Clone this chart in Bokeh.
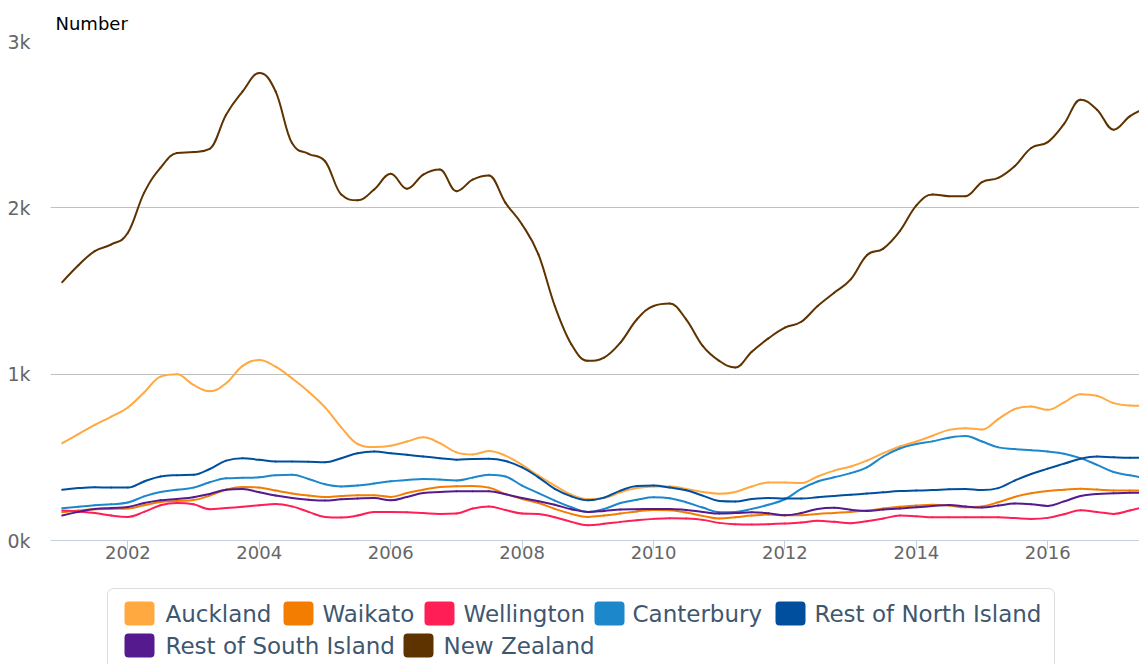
import pandas as pd
from bokeh.plotting import figure
from bokeh.models import (Range1d, FixedTicker, CustomJSTickFormatter, BoxAnnotation,
                          ColumnDataSource)
from bokeh.layouts import column
from bokeh.core.properties import value
from bokeh.embed import file_html
from bokeh.resources import INLINE

# ---------------- data (quarterly) ----------------
quarters = pd.date_range("2001-01-01", periods=67, freq="QS")

auckland = [585, 640, 695, 745, 800, 890, 985, 1000, 935, 898,
            945, 1050, 1085, 1045, 975, 895, 800, 680, 580, 562,
            570, 595, 620, 585, 530, 517, 538, 510, 455, 390,
            330, 275, 248, 255, 290, 315, 325, 325, 310, 292,
            281, 292, 325, 348, 348, 345, 385, 420, 445, 480,
            525, 565, 595, 630, 665, 675, 668, 730, 790, 805,
            786, 830, 880, 870, 826, 812, 810]
waikato = [170, 180, 188, 190, 192, 212, 232, 238, 243, 270,
           305, 322, 318, 300, 283, 270, 262, 268, 272, 272,
           262, 285, 305, 322, 326, 328, 318, 280, 250, 225,
           190, 160, 142, 150, 162, 175, 184, 182, 168, 148,
           132, 140, 150, 156, 152, 152, 160, 166, 172, 180,
           192, 203, 210, 215, 210, 200, 205, 230, 262, 284,
           298, 305, 311, 306, 301, 300, 300]
wellington = [180, 175, 165, 150, 142, 172, 212, 226, 218, 188,
              195, 203, 212, 220, 205, 172, 142, 138, 150, 172,
              172, 170, 165, 160, 162, 192, 205, 183, 162, 160,
              140, 112, 92, 100, 112, 122, 130, 134, 132, 124,
              106, 98, 96, 98, 102, 108, 118, 112, 104, 116,
              132, 150, 146, 140, 140, 140, 140, 140, 135, 130,
              136, 158, 182, 172, 160, 180, 205]
canterbury = [194, 203, 212, 218, 228, 265, 292, 305, 318, 350,
              374, 377, 380, 393, 395, 370, 338, 325, 330, 342,
              356, 363, 370, 366, 361, 378, 396, 385, 330, 285,
              240, 200, 172, 190, 225, 245, 260, 254, 230, 198,
              170, 172, 190, 215, 248, 310, 355, 380, 405, 440,
              505, 553, 580, 596, 618, 628, 595, 560, 550, 543,
              535, 522, 495, 455, 412, 392, 375]
rest_north = [305, 315, 320, 318, 318, 355, 385, 393, 395, 430,
              480, 495, 485, 475, 475, 474, 470, 495, 525, 535,
              525, 515, 505, 495, 486, 490, 492, 478, 440, 380,
              310, 265, 242, 258, 300, 328, 330, 318, 302, 270,
              238, 235, 250, 255, 252, 252, 260, 268, 275, 282,
              290, 297, 300, 303, 308, 310, 303, 315, 360, 400,
              432, 462, 492, 505, 500, 497, 497]
rest_south = [150, 172, 190, 196, 202, 225, 242, 250, 260, 280,
              305, 310, 290, 270, 255, 245, 240, 248, 252, 255,
              242, 262, 285, 292, 296, 296, 296, 278, 255, 236,
              215, 188, 172, 178, 186, 188, 190, 190, 183, 172,
              162, 165, 170, 164, 152, 165, 190, 197, 185, 178,
              186, 192, 200, 207, 214, 205, 198, 210, 222, 218,
              208, 235, 268, 280, 284, 287, 288]
new_zealand = [1553, 1655, 1740, 1780, 1850, 2090, 2240, 2330, 2335, 2355,
               2560, 2700, 2810, 2700, 2390, 2325, 2280, 2080, 2045, 2110,
               2205, 2115, 2200, 2230, 2100, 2170, 2195, 2030, 1900, 1720,
               1410, 1180, 1080, 1100, 1190, 1330, 1410, 1425, 1330, 1170,
               1080, 1040, 1135, 1215, 1280, 1315, 1410, 1490, 1570, 1715,
               1755, 1860, 2015, 2080, 2070, 2070, 2155, 2180, 2250, 2360,
               2395, 2505, 2650, 2590, 2470, 2550, 2600]

series_names = ["Auckland", "Waikato", "Wellington", "Canterbury",
                "Rest of North Island", "Rest of South Island", "New Zealand"]
series_values = [auckland, waikato, wellington, canterbury,
                 rest_north, rest_south, new_zealand]
series_colors = ["#FFA940", "#F27D00", "#FF1E56", "#1C87CB",
                 "#004F9F", "#541A8E", "#5F3300"]

y_ticks = [0, 1000, 2000, 3000]
x_tick_years = [2002, 2004, 2006, 2008, 2010, 2012, 2014, 2016]

FONT = "DejaVu Sans"


def spline_segments(xs, ys, smoothing=1.5):
    """Control points for a smooth curve through the data points (spline rendering)."""
    n = len(xs)
    denom = smoothing + 1
    lc = [(xs[i], ys[i]) for i in range(n)]
    rc = [(xs[i], ys[i]) for i in range(n)]
    for i in range(1, n - 1):
        px, py = xs[i], ys[i]
        lx = (smoothing * px + xs[i - 1]) / denom
        ly = (smoothing * py + ys[i - 1]) / denom
        rx = (smoothing * px + xs[i + 1]) / denom
        ry = (smoothing * py + ys[i + 1]) / denom
        if rx != lx:
            corr = ((ry - ly) * (rx - px)) / (rx - lx) + py - ry
            ly += corr
            ry += corr
        if ly > ys[i - 1] and ly > py:
            ly = max(ys[i - 1], py); ry = 2 * py - ly
        elif ly < ys[i - 1] and ly < py:
            ly = min(ys[i - 1], py); ry = 2 * py - ly
        if ry > ys[i + 1] and ry > py:
            ry = max(ys[i + 1], py); ly = 2 * py - ry
        elif ry < ys[i + 1] and ry < py:
            ry = min(ys[i + 1], py); ly = 2 * py - ry
        lc[i] = (lx, ly)
        rc[i] = (rx, ry)
    seg = dict(x0=[], y0=[], x1=[], y1=[], cx0=[], cy0=[], cx1=[], cy1=[])
    for i in range(1, n):
        seg["x0"].append(xs[i - 1]); seg["y0"].append(ys[i - 1])
        seg["x1"].append(xs[i]); seg["y1"].append(ys[i])
        seg["cx0"].append(rc[i - 1][0]); seg["cy0"].append(rc[i - 1][1])
        seg["cx1"].append(lc[i][0]); seg["cy1"].append(lc[i][1])
    return seg


# ---------------- main chart ----------------
ms_day = 86400000.0
ref = pd.Timestamp("2002-01-01").value / 1e6
x_start = ref - 430.2 * ms_day
x_end = x_start + (1089 / 0.17990) * ms_day

p = figure(width=1139, height=575, x_axis_type="datetime",
           x_range=Range1d(x_start, x_end), y_range=Range1d(0, 3000),
           output_backend="svg", toolbar_location=None,
           min_border_left=50, min_border_right=0,
           min_border_top=41, min_border_bottom=35)
p.outline_line_color = None
p.background_fill_color = "white"
p.border_fill_color = "white"

p.xgrid.visible = False
p.ygrid.ticker = FixedTicker(ticks=y_ticks)
p.ygrid.grid_line_color = "#C0C0C0"
p.ygrid.grid_line_width = 1

p.yaxis.ticker = FixedTicker(ticks=y_ticks)
p.yaxis.formatter = CustomJSTickFormatter(code="return (tick/1000).toFixed(0) + 'k';")
p.yaxis.axis_line_color = None
p.yaxis.major_tick_line_color = None
p.yaxis.minor_tick_line_color = None
p.yaxis.major_label_text_font = FONT
p.yaxis.major_label_text_font_size = "19px"
p.yaxis.major_label_text_color = "#666666"
p.yaxis.major_label_standoff = 14

x_ticks = [pd.Timestamp(f"{y}-01-01").value / 1e6 for y in x_tick_years]
p.xaxis.ticker = FixedTicker(ticks=x_ticks, minor_ticks=[])
p.xaxis.formatter = CustomJSTickFormatter(code="return new Date(tick).getUTCFullYear().toString();")
p.xaxis.axis_line_color = "#C0D0E0"
p.xaxis.axis_line_width = 1
p.xaxis.major_tick_line_color = "#C0D0E0"
p.xaxis.major_tick_in = 0
p.xaxis.major_tick_out = 9
p.xaxis.minor_tick_line_color = None
p.xaxis.major_label_text_font = FONT
p.xaxis.major_label_text_font_size = "18px"
p.xaxis.major_label_text_color = "#666666"
p.xaxis.major_label_standoff = -4

p.title.text = "Number"
p.title.text_font = FONT
p.title.text_font_size = "18px"
p.title.text_font_style = "normal"
p.title.text_color = "#000000"
p.title.align = "left"
p.title.offset = 5
p.title.standoff = 15

qx = [q.value / 1e6 for q in quarters]
for name, vals, col in zip(series_names, series_values, series_colors):
    src = ColumnDataSource(spline_segments(qx, vals))
    p.bezier("x0", "y0", "x1", "y1", "cx0", "cy0", "cx1", "cy1", source=src,
             line_color=col, line_width=2, line_cap="round")

# ---------------- legend ----------------
lg = figure(width=1139, height=89, x_range=Range1d(50, 1139), y_range=Range1d(89, 0),
            output_backend="svg", toolbar_location=None,
            x_axis_location=None, y_axis_location=None,
            min_border_left=50, min_border_right=0, min_border_top=0, min_border_bottom=0)
lg.grid.visible = False
lg.outline_line_color = None

box = BoxAnnotation(left=107, right=1054, top=13, bottom=140,
                    fill_color=None, fill_alpha=0,
                    line_color="#909090", line_width=1, border_radius=6)
lg.add_layout(box)

text_x = [165, 322, 463, 632, 814, 165, 443]
sym_x = [139, 298, 439, 609, 790, 139, 418]
row_y = [38, 38, 38, 38, 38, 70, 70]

lsrc = ColumnDataSource(dict(tx=text_x, sx=sym_x, y=row_y, name=series_names, col=series_colors))
lg.rect("sx", "y", width=22, height=16, width_units="screen", height_units="screen",
        source=lsrc, fill_color="col", line_color="col", line_width=8, line_join="round")
lg.text("tx", "y", text="name", source=lsrc, text_font=value(FONT), text_font_size="23px",
        text_color="#3E576F", text_baseline="middle", text_align="left")

layout = column(p, lg, spacing=0)
open("out.html", "w").write(file_html(layout, INLINE))
